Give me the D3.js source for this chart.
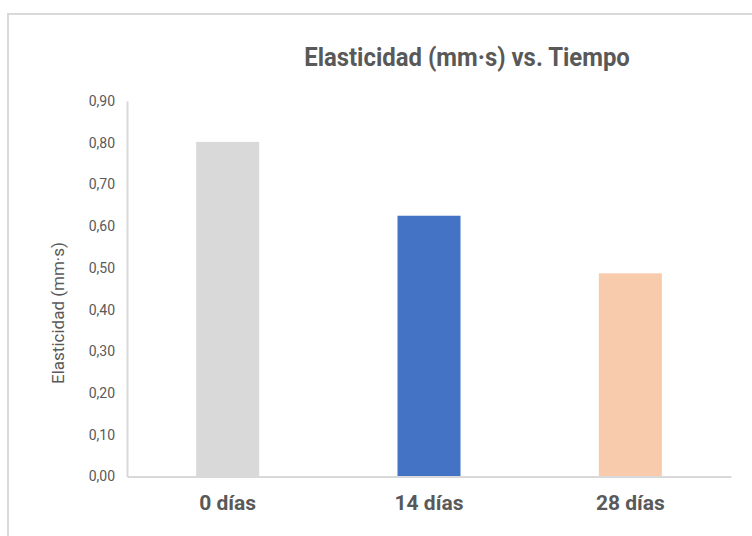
<!DOCTYPE html>
<html><head><meta charset="utf-8">
<script src="https://cdn.jsdelivr.net/npm/d3@7"></script>
<style>html,body{margin:0;padding:0;background:#fff;overflow:hidden}</style>
</head><body>
<script>
const categories = ["0 días", "14 días", "28 días"];
const values = [0.802, 0.625, 0.487];
const colors = ["#d9d9d9", "#4472c4", "#f8cbad"];
const yTicks = [0, 0.1, 0.2, 0.3, 0.4, 0.5, 0.6, 0.7, 0.8, 0.9];
const titleText = "Elasticidad (mm·s) vs. Tiempo";
const yTitle = "Elasticidad (mm·s)";

(function () {
const W = 752, H = 536;
const font = "Roboto,'Liberation Sans',sans-serif";
const svg = d3.select("body").append("svg").attr("width", W).attr("height", H);

// frame
svg.append("path").attr("d", `M8,${H} V14 H${W}`).attr("fill", "none")
  .attr("stroke", "#d9d9d9").attr("stroke-width", 2);

const pLeft = 127, pRight = 731, pTop = 101, pBottom = 476.5;
const x = d3.scaleBand().domain(categories).range([pLeft, pRight]).paddingInner(0.687).paddingOuter(0.3435);
const y = d3.scaleLinear().domain([0, 0.9]).range([pBottom, pTop]);

// bars
svg.selectAll("rect.bar").data(values).join("rect").attr("class", "bar")
  .attr("x", (d, i) => x(categories[i])).attr("width", x.bandwidth())
  .attr("y", d => y(d)).attr("height", d => y(0) - y(d))
  .attr("fill", (d, i) => colors[i]);

// y axis
const fmt = d => d.toFixed(2).replace(".", ",");
const ya = svg.append("g").attr("transform", `translate(${pLeft},0)`)
  .call(d3.axisLeft(y).tickValues(yTicks).tickFormat(fmt).tickSize(0).tickPadding(12));
ya.select(".domain").attr("stroke", "#d9d9d9").attr("stroke-width", 2);
ya.selectAll("text").attr("font-family", font).attr("font-size", 14).attr("fill", "#595959");

// x axis
const xa = svg.append("g").attr("transform", `translate(0,${pBottom})`)
  .call(d3.axisBottom(x).tickSize(0).tickPadding(19));
xa.select(".domain").attr("stroke", "#d9d9d9").attr("stroke-width", 2);
xa.selectAll("text").attr("font-family", font).attr("font-size", 21).attr("font-weight", "bold").attr("fill", "#595959");

// title
svg.append("text").attr("transform", "translate(467,66) scale(0.92,1)").attr("text-anchor", "middle")
  .attr("font-family", font).attr("font-size", 26).attr("font-weight", "bold").attr("fill", "#595959")
  .text(titleText);

// y title
svg.append("text").attr("transform", `translate(64,313) rotate(-90)`).attr("text-anchor", "middle")
  .attr("font-family", font).attr("font-size", 17).attr("fill", "#595959")
  .text(yTitle);
})();
</script>
</body></html>
